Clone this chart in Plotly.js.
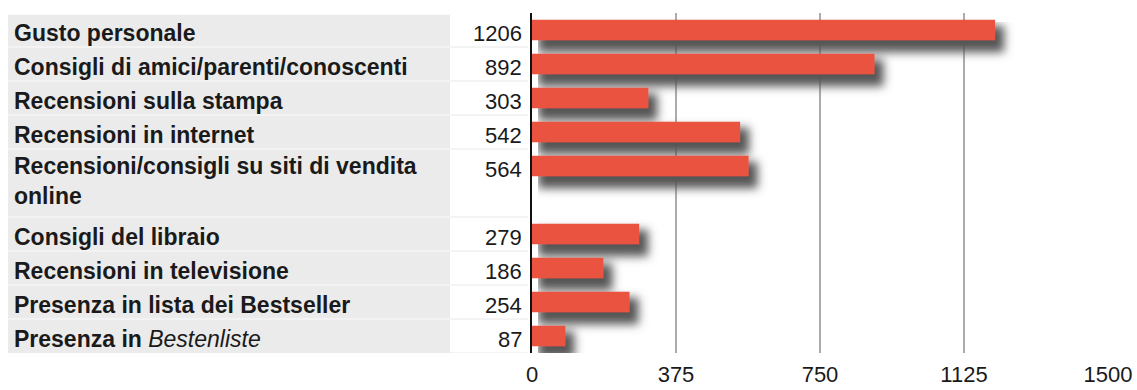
<!DOCTYPE html>
<html>
<head>
<meta charset="utf-8">
<script src="https://cdn.plot.ly/plotly-3.0.1.min.js"></script>
<style>
  html, body { margin: 0; padding: 0; background: #ffffff; }
  #chart { width: 1137px; height: 390px; }
</style>
</head>
<body>
<div id="chart"></div>
<script>
// ---- data ----
const categories = [
  "<b>Gusto personale</b>",
  "<b>Consigli di amici/parenti/conoscenti</b>",
  "<b>Recensioni sulla stampa</b>",
  "<b>Recensioni in internet</b>",
  "<b>Recensioni/consigli su siti di vendita</b><br><b>online</b>",
  "<b>Consigli del libraio</b>",
  "<b>Recensioni in televisione</b>",
  "<b>Presenza in lista dei Bestseller</b>",
  "<b>Presenza in</b> <i>Bestenliste</i>"
];
const values = [1206, 892, 303, 542, 564, 279, 186, 254, 87];
const rowSpans = [1, 1, 1, 1, 2, 1, 1, 1, 1];
const tickValues = [0, 375, 750, 1125, 1500];
const tickLabels = ["0", "375", "750", "1125", "1500"];

// ---- layout helpers ----
const W = 1137, H = 390;
const M = { l: 532, r: 29, t: 13, b: 37 };
const plotW = W - M.l - M.r;
const px2paper = p => (p - M.l) / plotW;

// row positions derived from row spans
const rowPos = [];
let acc = 0;
rowSpans.forEach(s => { rowPos.push(acc); acc += s; });
const nRows = acc; // 10
const yMin = -0.5, yMax = nRows - 0.5;

const FONT = "Liberation Sans, Arial, Helvetica, sans-serif";
const TXT = "#1a1a1a";

const shapes = [];
const annotations = [];

// label column background (grey)
shapes.push({
  type: "rect", xref: "paper", yref: "y", layer: "below",
  x0: px2paper(8), x1: px2paper(450), y0: yMin + 0.05, y1: yMax,
  fillcolor: "#ebebeb", line: { width: 0 }
});
// row separators
rowPos.forEach((p, i) => {
  if (i === 0) return;
  const yb = p - 0.5;
  shapes.push({ type: "line", xref: "paper", yref: "y", layer: "below",
    x0: px2paper(8), x1: px2paper(450), y0: yb, y1: yb,
    line: { color: "#f6f6f6", width: 1.5 } });
  shapes.push({ type: "line", xref: "paper", yref: "y", layer: "below",
    x0: px2paper(450), x1: px2paper(528), y0: yb, y1: yb,
    line: { color: "#e8e8e8", width: 1 } });
});
// bottom border of value column
shapes.push({ type: "line", xref: "paper", yref: "y", layer: "below",
  x0: px2paper(450), x1: px2paper(528), y0: yMax, y1: yMax,
  line: { color: "#e8e8e8", width: 1 } });

categories.forEach((c, i) => {
  const multi = rowSpans[i] > 1;
  annotations.push({
    xref: "paper", yref: "y", x: px2paper(12), y: rowPos[i],
    xanchor: "left", yanchor: multi ? "top" : "middle",
    yshift: multi ? 15 : -3,
    text: c, showarrow: false, align: "left",
    font: { family: FONT, size: 23, color: TXT }
  });
  annotations.push({
    xref: "paper", yref: "y", x: px2paper(524), y: rowPos[i],
    xanchor: "right", yanchor: "middle", yshift: -3,
    text: String(values[i]), showarrow: false, align: "right",
    font: { family: FONT, size: 22, color: TXT }
  });
});

const data = [{
  type: "bar",
  orientation: "h",
  x: values,
  y: rowPos,
  width: 0.6,
  marker: { color: "#e9523f", line: { width: 0 } },
  hoverinfo: "skip"
}];

const layout = {
  width: W, height: H,
  margin: M,
  paper_bgcolor: "#ffffff",
  plot_bgcolor: "rgba(0,0,0,0)",
  showlegend: false,
  font: { family: FONT, color: TXT },
  xaxis: {
    range: [0, 1500],
    tickvals: tickValues,
    ticktext: tickLabels,
    showgrid: true,
    gridcolor: "#ababab",
    gridwidth: 1.5,
    zeroline: false,
    showline: false,
    ticks: "outside",
    ticklen: 2,
    tickcolor: "rgba(0,0,0,0)",
    tickfont: { family: FONT, size: 22, color: TXT },
    fixedrange: true
  },
  yaxis: {
    type: "linear",
    range: [yMax, yMin],
    showgrid: false,
    zeroline: false,
    showticklabels: false,
    ticks: "",
    showline: true,
    linecolor: "#111111",
    linewidth: 2,
    fixedrange: true
  },
  shapes: shapes,
  annotations: annotations
};

Plotly.newPlot("chart", data, layout, { staticPlot: true, displayModeBar: false }).then(gd => {
  const ns = "http://www.w3.org/2000/svg";
  const svg = gd.querySelector(".main-svg");
  let defs = svg.querySelector("defs");
  if (!defs) { defs = document.createElementNS(ns, "defs"); svg.insertBefore(defs, svg.firstChild); }
  const f = document.createElementNS(ns, "filter");
  f.setAttribute("id", "barshadow");
  f.setAttribute("filterUnits", "userSpaceOnUse");
  f.setAttribute("x", "0"); f.setAttribute("y", "0");
  f.setAttribute("width", String(W)); f.setAttribute("height", String(H));
  const dil = document.createElementNS(ns, "feMorphology");
  dil.setAttribute("in", "SourceAlpha"); dil.setAttribute("operator", "dilate");
  dil.setAttribute("radius", "3"); dil.setAttribute("result", "dl");
  const blur = document.createElementNS(ns, "feGaussianBlur");
  blur.setAttribute("in", "dl"); blur.setAttribute("stdDeviation", "5");
  const off = document.createElementNS(ns, "feOffset");
  off.setAttribute("dx", "6"); off.setAttribute("dy", "9"); off.setAttribute("result", "ob");
  const flood = document.createElementNS(ns, "feFlood");
  flood.setAttribute("flood-color", "#555555"); flood.setAttribute("flood-opacity", "1");
  const comp = document.createElementNS(ns, "feComposite");
  comp.setAttribute("in2", "ob"); comp.setAttribute("operator", "in"); comp.setAttribute("result", "sh");
  const merge = document.createElementNS(ns, "feMerge");
  const m1 = document.createElementNS(ns, "feMergeNode"); m1.setAttribute("in", "sh");
  const m2 = document.createElementNS(ns, "feMergeNode"); m2.setAttribute("in", "SourceGraphic");
  merge.appendChild(m1); merge.appendChild(m2);
  [dil, blur, off, flood, comp, merge].forEach(e => f.appendChild(e));
  defs.appendChild(f);
  const tr = gd.querySelector(".barlayer .trace");
  if (tr) tr.setAttribute("filter", "url(#barshadow)");
});
</script>
</body>
</html>
